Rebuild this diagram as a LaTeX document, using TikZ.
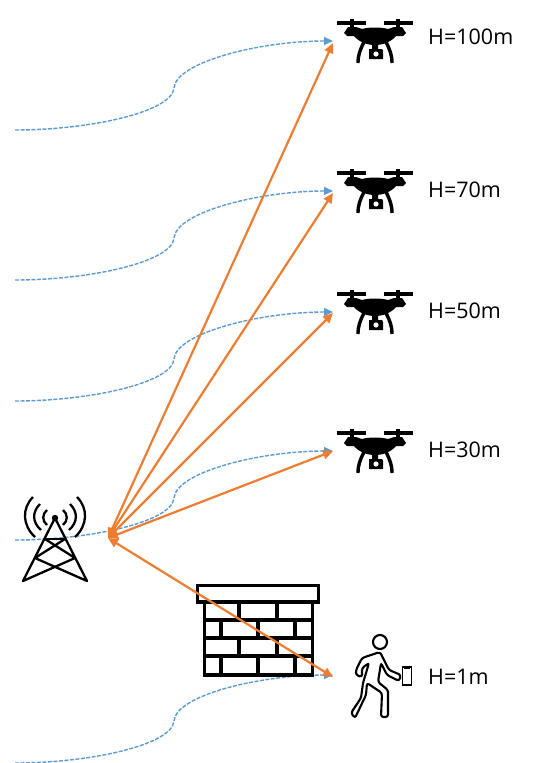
\documentclass[tikz,border=0pt]{standalone}
\usepackage{fontspec}
\setmainfont{Open Sans}
\usetikzlibrary{arrows.meta}
\definecolor{LinkOrange}{HTML}{ED7D31}
\definecolor{PathBlue}{HTML}{5B9BD5}

\begin{document}
\begin{tikzpicture}[
      x = 1pt,
      y = -1pt,
      font = \fontsize{21.5}{22}\selectfont,
      hlabel/.style={
        anchor = west,
        inner sep = 0pt,
      },
      los/.style={
        {Triangle[length=10pt,width=9pt]}-{Triangle[length=10pt,width=9pt]},
        line width = 2.2pt,
        LinkOrange,
      },
      wave/.style={
        -{Triangle[length=9pt,width=8pt]},
        line width = 1.4pt,
        dash pattern = on 4pt off 1.5pt,
        PathBlue,
        to path={
          (\tikztostart) .. controls +(75,0) and +(-2,24) .. ++(159,-42)
          .. controls +(2,-26) and +(-73,0) .. (\tikztotarget)
        },
      },
      drone/.pic={
        \draw[line width = 3.6pt] (-38,0) -- (-9,0) (9,0) -- (38,0);
        \draw[line width = 3.6pt] (-23,-4) -- (-23,8) (23,-4) -- (23,8);
        \fill (-31,10) -- (-27,4) -- (-19,4) -- (-13,6) .. controls (-6,4) and (6,4) .. (13,6)
          -- (19,4) -- (27,4) -- (31,10) -- (28,13) -- (21,13)
          .. controls (16,19) and (8,22) .. (0,22)
          .. controls (-8,22) and (-16,19) .. (-21,13) -- (-28,13) -- cycle;
        \draw[line width = 3.4pt] (-11,19) .. controls (-15,27) and (-17,32) .. (-17,40);
        \draw[line width = 3.4pt] (11,19) .. controls (15,27) and (17,32) .. (17,40);
        \fill (-6,26) -- (-3,26) -- (-3,21) -- (3,21) -- (3,26) -- (7,26) -- (8,28) -- (8,36) -- (-6,36) -- cycle;
        \fill[white] (1,31) circle (2.6);
      },
      brick/.style={
        line width = 3.2pt,
      },
      tower/.style={
        line width = 2.3pt,
        line join = round,
      },
    ]
    \useasboundingbox (0,0) rectangle (539,763);

    % blue paths
    \coordinate (s100) at (15,130);
    \coordinate (s70) at (15,280);
    \coordinate (s50) at (15,401);
    \coordinate (s30) at (15,540);
    \coordinate (s1) at (15,763);
    \coordinate (e100) at (333,41);
    \coordinate (e70) at (333,191);
    \coordinate (e50) at (333,312);
    \coordinate (e30) at (333,451);
    \coordinate (e1) at (333,675);
    \draw[wave] (s100) to (e100);
    \draw[wave] (s70) to (e70);
    \draw[wave] (s50) to (e50);
    \draw[wave] (s30) to (e30);
    \draw[wave] (s1) to (e1);

    % tower
    \draw[tower] (55,518) -- (23,581) -- (75,558) -- (45,539);
    \draw[tower] (55,518) -- (87,581) -- (35,558) -- (65,539);
    \draw[tower] (45,539) -- (65,539);
    \fill (55,518) circle (3.2);
    \draw[tower] (33,497) .. controls (22,508) and (22,525) .. (35,537);
    \draw[tower] (40,504) .. controls (32,512) and (32,522) .. (41,530);
    \draw[tower] (47,510) .. controls (42,514) and (42,521) .. (47,525);
    \draw[tower] (77,497) .. controls (88,508) and (88,525) .. (75,537);
    \draw[tower] (70,504) .. controls (78,512) and (78,522) .. (69,530);
    \draw[tower] (63,510) .. controls (68,514) and (68,521) .. (63,525);

    % wall
    \draw[brick] (197.5,585.5) rectangle (318.5,602);
    \draw[brick] (204.5,602) rectangle (312.5,675);
    \draw[brick] (204.5,620) -- (312.5,620) (204.5,638) -- (312.5,638) (204.5,656) -- (312.5,656);
    \draw[brick] (239,602) -- (239,620) (277,602) -- (277,620);
    \draw[brick] (221,620) -- (221,638) (258,620) -- (258,638) (295,620) -- (295,638);
    \draw[brick] (239,638) -- (239,656) (277,638) -- (277,656);
    \draw[brick] (221,656) -- (221,675) (258,656) -- (258,675) (295,656) -- (295,675);

    % drones
    \pic at (375,23) {drone};
    \pic at (375,173) {drone};
    \pic at (375,294) {drone};
    \pic at (375,433) {drone};

    % person
    \draw[line width = 2.1pt] (380,642) circle (7);
    \draw[line width = 2.1pt, rounded corners = 2.5pt]
      (362,658) -- (380,652) -- (389,670) -- (401,675) -- (399,681) -- (387,675)
      -- (381,663) -- (378,682) -- (388,690) -- (388,717) -- (381,717) -- (382,693)
      -- (367,683) -- (366,695) -- (355,718) -- (351,713) -- (361,698) -- (363,683)
      -- (369,663) -- (362,668) -- (362,677) -- (356,675) -- (356,670) -- cycle;
    \draw[line width = 1.9pt] (402.5,667) rectangle (411.5,685);
    \draw[line width = 1.9pt] (404,668) -- (410,668);

    % labels
    \node[hlabel] (h100) at (428,37) {H=100m};
    \node[hlabel] (h70) at (428,190) {H=70m};
    \node[hlabel] (h50) at (428,311) {H=50m};
    \node[hlabel] (h30) at (428,450) {H=30m};
    \node[hlabel] (h1) at (428,677) {H=1m};

    % orange links
    \coordinate (bs) at (108,538);
    \coordinate (t100) at (333,43);
    \coordinate (t70) at (333,193);
    \coordinate (t50) at (333,313);
    \coordinate (t30) at (333,451);
    \coordinate (t1) at (333,677);
    \draw[los] (bs) -- (t100);
    \draw[los] (bs) -- (t70);
    \draw[los] (bs) -- (t50);
    \draw[los] (bs) -- (t30);
    \draw[los] (bs) -- (t1);
  \end{tikzpicture}
\end{document}
